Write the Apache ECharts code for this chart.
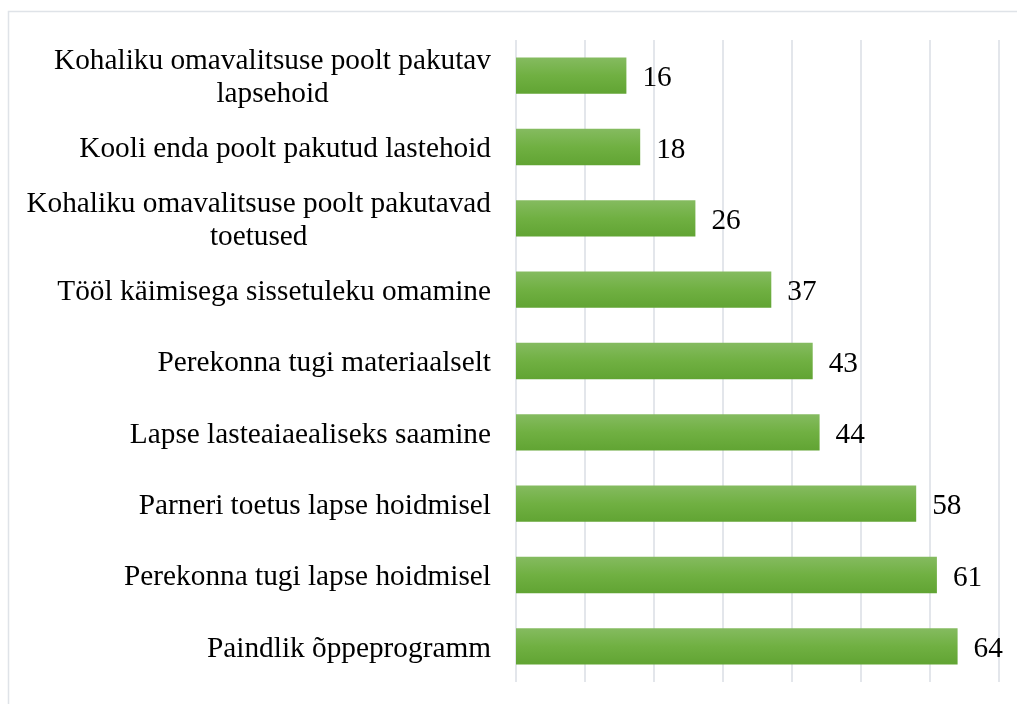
<!DOCTYPE html>
<html lang="et">
<head>
  <meta charset="UTF-8">
  <title>Lapsehoid</title>
  <style>
    #container, html, body {
      margin: 0;
      padding: 0;
      height: 100%;
      width: 100%;
      background: #fff;
    }
  </style>
</head>
<body>
  <div id="container"></div>
</body>
<script src="https://cdn.jsdelivr.net/npm/echarts@6/dist/echarts.min.js"></script>
<script>
  // andmed ülevalt alla
  var categories = [
    'Kohaliku omavalitsuse poolt pakutav\nlapsehoid',
    'Kooli enda poolt pakutud lastehoid',
    'Kohaliku omavalitsuse poolt pakutavad\ntoetused',
    'Tööl käimisega sissetuleku omamine',
    'Perekonna tugi materiaalselt',
    'Lapse lasteaiaealiseks saamine',
    'Parneri toetus lapse hoidmisel',
    'Perekonna tugi lapse hoidmisel',
    'Paindlik õppeprogramm'
  ]
  var values = [16, 18, 26, 37, 43, 44, 58, 61, 64]
  var axisMin = 0
  var axisMax = 70
  var axisStep = 10

  var font = '"Liberation Serif", "Times New Roman", serif'
  var fs = 29.3

  // teine rida keskele nagu originaalis
  var labelFormatter = function (str) {
    var lines = str.split('\n')
    if (lines.length === 1) return '{a|' + str + '}'
    return lines.map(function (l) { return '{c|' + l + '}' }).join('\n')
  }

  var charts = echarts.init(document.querySelector('#container'))
  var option = {
    backgroundColor: '#fff',
    animation: false,
    graphic: [{
      type: 'rect',
      shape: {x: 8.5, y: 11.5, width: 1200, height: 900},
      style: {fill: 'none', stroke: '#dfe3e8', lineWidth: 1.5},
      silent: true
    }],
    grid: {left: 516, right: 18, top: 40, bottom: 22},
    xAxis: {
      type: 'value',
      min: axisMin,
      max: axisMax,
      interval: axisStep,
      axisLabel: {show: false},
      axisTick: {show: false},
      axisLine: {show: false},
      splitLine: {show: true, lineStyle: {color: '#dce0e6', width: 1.6}}
    },
    yAxis: {
      type: 'category',
      inverse: true,
      data: categories,
      axisTick: {show: false},
      axisLine: {show: false},
      axisLabel: {
        margin: 25,
        color: '#000',
        fontFamily: font,
        fontSize: fs,
        lineHeight: 33,
        formatter: labelFormatter,
        rich: {
          a: {fontFamily: font, fontSize: fs, color: '#000', lineHeight: 33, padding: [5, 0, 0, 0]},
          c: {fontFamily: font, fontSize: fs, color: '#000', lineHeight: 33, align: 'center', padding: [5, 0, 0, 0]}
        }
      }
    },
    series: [{
      type: 'bar',
      data: values,
      barWidth: '51%',
      itemStyle: {
        color: new echarts.graphic.LinearGradient(0, 0, 0, 1, [
          {offset: 0, color: '#85bb60'},
          {offset: 0.5, color: '#70b042'},
          {offset: 1, color: '#61a433'}
        ])
      },
      label: {
        show: true,
        position: 'right',
        distance: 16,
        offset: [0, 3],
        color: '#000',
        fontFamily: font,
        fontSize: fs
      }
    }]
  }
  charts.setOption(option)
  window.onresize = charts.resize
</script>
</html>
